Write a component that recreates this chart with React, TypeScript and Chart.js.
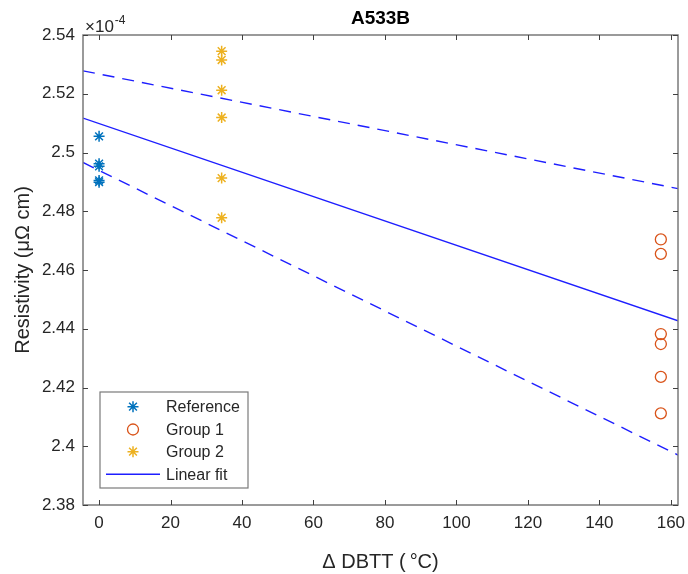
import React, { useEffect, useRef } from "react";
import { Chart, registerables } from "chart.js";
import { drawPoint } from "chart.js/helpers";

Chart.register(...registerables);

// ---- data (values in units of 1e-4 µΩ cm) ----
const refX = [0, 0, 0, 0, 0];
const refY = [2.5055, 2.4962, 2.4953, 2.4905, 2.4899];
const group1X = [157.2, 157.2, 157.2, 157.2, 157.2, 157.2];
const group1Y = [2.4704, 2.4655, 2.4382, 2.4348, 2.4236, 2.4112];
const group2X = [34.3, 34.3, 34.3, 34.3, 34.3, 34.3];
const group2Y = [2.5345, 2.5315, 2.5212, 2.5119, 2.4913, 2.4778];
const fitX = [-4.5, 162];
const fitY = [2.5117, 2.4427];
const upperX = [-4.5, 162];
const upperY = [2.5278, 2.4877];
const lowerX = [-4.5, 162];
const lowerY = [2.4966, 2.397];
const xTicks = [0, 20, 40, 60, 80, 100, 120, 140, 160];
const yTicks = [2.38, 2.4, 2.42, 2.44, 2.46, 2.48, 2.5, 2.52, 2.54];
const legendLabels = ["Reference", "Group 1", "Group 2", "Linear fit"];

const FONT = "'Liberation Sans', Arial, Helvetica, sans-serif";
const TEXT = "#262626";
const AXIS = "#7a7a7a";
const BLUE_LINE = "rgb(30,30,255)";

const toPts = (xs: number[], ys: number[]) => xs.map((x, i) => ({ x, y: ys[i] }));

const boxPlugin = {
  id: "matlabBox",
  afterDatasetsDraw(chart: any) {
    const { ctx, chartArea: a, scales } = chart;
    const xs = scales.x;
    const ys = scales.y;
    ctx.save();
    // axes box
    ctx.strokeStyle = AXIS;
    ctx.lineWidth = 1.5;
    ctx.strokeRect(a.left, a.top, a.right - a.left, a.bottom - a.top);
    // inward ticks
    const tl = 5;
    ctx.strokeStyle = "#404040";
    ctx.lineWidth = 1;
    ctx.beginPath();
    xs.ticks.forEach((t: any) => {
      const px = Math.round(xs.getPixelForValue(t.value)) + 0.5;
      ctx.moveTo(px, a.bottom);
      ctx.lineTo(px, a.bottom - tl);
      ctx.moveTo(px, a.top);
      ctx.lineTo(px, a.top + tl);
    });
    ys.ticks.forEach((t: any) => {
      const py = Math.round(ys.getPixelForValue(t.value)) + 0.5;
      ctx.moveTo(a.left, py);
      ctx.lineTo(a.left + tl, py);
      ctx.moveTo(a.right, py);
      ctx.lineTo(a.right - tl, py);
    });
    ctx.stroke();

    // exponent label
    ctx.fillStyle = TEXT;
    ctx.textBaseline = "alphabetic";
    ctx.textAlign = "left";
    ctx.font = `17px ${FONT}`;
    const ex = a.left + 2;
    const ey = a.top - 3;
    ctx.fillText("×10", ex, ey);
    const w = ctx.measureText("×10").width;
    ctx.font = `12px ${FONT}`;
    ctx.fillText("-4", ex + w + 1, ey - 8);

    // legend
    const bl = a.left + 17;
    const bt = a.bottom - 113;
    const bw = 148;
    const bh = 96;
    ctx.fillStyle = "#ffffff";
    ctx.fillRect(bl, bt, bw, bh);
    ctx.strokeStyle = AXIS;
    ctx.lineWidth = 1.2;
    ctx.strokeRect(bl, bt, bw, bh);
    const rowY = [14.7, 37.5, 59.7, 82.3];
    chart.data.datasets.slice(0, legendLabels.length).forEach((ds: any, i: number) => {
      const cy = bt + rowY[i];
      if (ds.showLine) {
        ctx.strokeStyle = ds.borderColor;
        ctx.lineWidth = ds.borderWidth;
        ctx.setLineDash(ds.borderDash || []);
        ctx.beginPath();
        ctx.moveTo(bl + 6, cy);
        ctx.lineTo(bl + 60, cy);
        ctx.stroke();
        ctx.setLineDash([]);
      } else {
        ctx.strokeStyle = ds.borderColor;
        ctx.fillStyle = ds.backgroundColor;
        ctx.lineWidth = ds.borderWidth;
        drawPoint(ctx, { pointStyle: ds.pointStyle, radius: ds.pointRadius, rotation: 0, borderWidth: ds.borderWidth }, bl + 33, cy);
      }
      ctx.fillStyle = TEXT;
      ctx.font = `16px ${FONT}`;
      ctx.textBaseline = "middle";
      ctx.textAlign = "left";
      ctx.fillText(legendLabels[i], bl + 66, cy + 1);
    });
    ctx.restore();
  },
};

export default function App() {
  const canvasRef = useRef<HTMLCanvasElement | null>(null);

  useEffect(() => {
    const canvas = canvasRef.current;
    if (!canvas) return;
    const chart = new Chart(canvas, {
      type: "scatter",
      data: {
        datasets: [
          {
            label: legendLabels[0],
            data: toPts(refX, refY),
            showLine: false,
            pointStyle: "star",
            pointRadius: 5.5,
            borderColor: "#0072BD",
            backgroundColor: "#0072BD",
            borderWidth: 1.5,
          },
          {
            label: legendLabels[1],
            data: toPts(group1X, group1Y),
            showLine: false,
            pointStyle: "circle",
            pointRadius: 5.5,
            borderColor: "#D95319",
            backgroundColor: "rgba(0,0,0,0)",
            borderWidth: 1.3,
          },
          {
            label: legendLabels[2],
            data: toPts(group2X, group2Y),
            showLine: false,
            pointStyle: "star",
            pointRadius: 5.5,
            borderColor: "#EDB120",
            backgroundColor: "#EDB120",
            borderWidth: 1.5,
          },
          {
            label: legendLabels[3],
            data: toPts(fitX, fitY),
            showLine: true,
            pointRadius: 0,
            borderColor: BLUE_LINE,
            backgroundColor: BLUE_LINE,
            borderWidth: 1.4,
          },
          {
            label: "upper",
            data: toPts(upperX, upperY),
            showLine: true,
            pointRadius: 0,
            borderColor: BLUE_LINE,
            backgroundColor: BLUE_LINE,
            borderWidth: 1.4,
            borderDash: [12, 8],
          },
          {
            label: "lower",
            data: toPts(lowerX, lowerY),
            showLine: true,
            pointRadius: 0,
            borderColor: BLUE_LINE,
            backgroundColor: BLUE_LINE,
            borderWidth: 1.4,
            borderDash: [12, 8],
          },
        ],
      },
      options: {
        responsive: false,
        animation: false,
        layout: { padding: { left: 0, right: 10, top: 0, bottom: 0 } },
        plugins: {
          legend: { display: false },
          tooltip: { enabled: false },
          title: {
            display: true,
            text: "A533B",
            fullSize: false,
            color: "#000000",
            font: { family: FONT, size: 19, weight: "bold" },
            padding: { top: 7, bottom: 5.2 },
          },
        },
        scales: {
          x: {
            type: "linear",
            min: -4.5,
            max: 162,
            grid: { display: false, drawTicks: false },
            border: { display: false },
            afterBuildTicks: (s: any) => {
              s.ticks = xTicks.map((v) => ({ value: v }));
            },
            afterFit: (s: any) => {
              s.height = 69;
              s.paddingRight = 0;
              s.paddingLeft = 0;
            },
            ticks: {
              color: TEXT,
              padding: 8,
              maxRotation: 0,
              autoSkip: false,
              font: { family: FONT, size: 17 },
              callback: (v: any) => String(v),
            },
            title: {
              display: true,
              text: "Δ DBTT (\u2009°C)",
              color: TEXT,
              font: { family: FONT, size: 20 },
              padding: { top: 5, bottom: 0 },
            },
          },
          y: {
            type: "linear",
            min: 2.38,
            max: 2.54,
            grid: { display: false, drawTicks: false },
            border: { display: false },
            afterBuildTicks: (s: any) => {
              s.ticks = yTicks.map((v) => ({ value: v }));
            },
            afterFit: (s: any) => {
              s.width = 83;
            },
            ticks: {
              color: TEXT,
              padding: 8,
              autoSkip: false,
              font: { family: FONT, size: 17 },
              callback: (v: any) => String(Number(Number(v).toFixed(2))),
            },
            title: {
              display: true,
              text: "Resistivity (μΩ cm)",
              color: TEXT,
              font: { family: FONT, size: 20 },
              padding: { top: 11, bottom: 0 },
            },
          },
        },
      },
      plugins: [boxPlugin],
    });
    return () => chart.destroy();
  }, []);

  return (
    <div style={{ position: "absolute", left: 0, top: 0, width: 688, height: 574, background: "#fff" }}>
      <canvas ref={canvasRef} width={688} height={574} style={{ width: 688, height: 574, display: "block" }} />
    </div>
  );
}
